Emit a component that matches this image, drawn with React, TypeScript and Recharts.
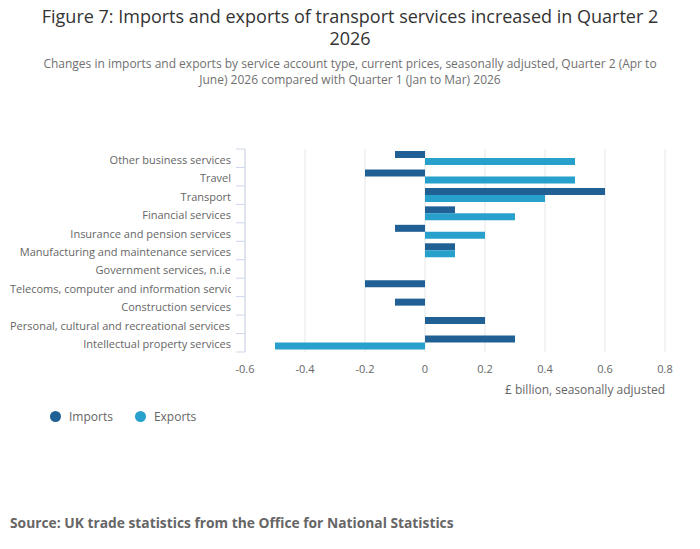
import React from 'react';
import { BarChart, Bar, XAxis, YAxis, CartesianGrid } from 'recharts';

const categories = [
  'Other business services',
  'Travel',
  'Transport',
  'Financial services',
  'Insurance and pension services',
  'Manufacturing and maintenance services',
  'Government services, n.i.e',
  'Telecoms, computer and information services',
  'Construction services',
  'Personal, cultural and recreational services',
  'Intellectual property services',
];
const imports = [-0.1, -0.2, 0.6, 0.1, -0.1, 0.1, 0, -0.2, -0.1, 0.2, 0.3];
const exports = [0.5, 0.5, 0.4, 0.3, 0.2, 0.1, 0, 0, 0, 0, -0.5];
const xTicks = [-0.6, -0.4, -0.2, 0, 0.2, 0.4, 0.6, 0.8];

const series = [
  { key: 'imports', name: 'Imports', color: '#206095' },
  { key: 'exports', name: 'Exports', color: '#27a0cc' },
];

const data = categories.map((name, i) => ({ name, imports: imports[i], exports: exports[i] }));

const W = 700;
const H = 549;
const TOP = 149;
const BOTTOM = 352;
const LEFT = 245;
const RIGHT = 665;
const LABEL_END = 231;
const FONT = '"Open Sans", sans-serif';
const NARROW = '"Liberation Sans Narrow", "Open Sans", sans-serif';
const bandH = (BOTTOM - TOP) / categories.length;

const CategoryTick = (props: any) => {
  const { y, payload, index } = props;
  const label: string = payload.value;
  const long = label.length > 40;
  return (
    <g>
      <line x1={LEFT - 9} x2={LEFT} y1={y - bandH / 2} y2={y - bandH / 2} stroke="#ccd6eb" />
      {index === categories.length - 1 && (
        <line x1={LEFT - 9} x2={LEFT} y1={y + bandH / 2} y2={y + bandH / 2} stroke="#ccd6eb" />
      )}
      <text
        x={long ? 10 : LABEL_END}
        y={y}
        dy="0.5em"
        textAnchor={long ? 'start' : 'end'}
        fill="#666666"
        fontSize={11}
        fontFamily={FONT}
        clipPath="url(#labelClip)"
      >
        {label}
      </text>
    </g>
  );
};

export default function App() {
  return (
    <div style={{ position: 'absolute', left: 0, top: 0, width: W, height: H, background: '#fff', fontFamily: FONT }}>
      <div style={{ position: 'absolute', top: 5, left: 0, width: W, textAlign: 'center', fontSize: 18, lineHeight: '22px', color: '#333333', fontFamily: NARROW }}>
        Figure 7: Imports and exports of transport services increased in Quarter 2
        <br />
        2026
      </div>
      <div style={{ position: 'absolute', top: 56, left: 0, width: W, textAlign: 'center', fontSize: 12, lineHeight: '15.5px', color: '#707070', fontFamily: NARROW }}>
        Changes in imports and exports by service account type, current prices, seasonally adjusted, Quarter 2 (Apr to
        <br />
        June) 2026 compared with Quarter 1 (Jan to Mar) 2026
      </div>
      <div style={{ position: 'absolute', left: 0, top: 0 }}>
        <BarChart
          width={W}
          height={H}
          data={data}
          layout="vertical"
          margin={{ top: TOP, right: W - RIGHT, bottom: H - BOTTOM - 30, left: 0 }}
          barGap={0}
          barSize={7}
        >
          <defs>
            <clipPath id="labelClip">
              <rect x={0} y={0} width={LABEL_END} height={H} />
            </clipPath>
          </defs>
          <CartesianGrid horizontal={false} stroke="#e6e6e6" />
          <XAxis
            type="number"
            domain={[xTicks[0], xTicks[xTicks.length - 1]]}
            ticks={xTicks}
            height={30}
            axisLine={false}
            tickLine={false}
            tickMargin={7}
            tick={{ fill: '#666666', fontSize: 11, fontFamily: FONT }}
            tickFormatter={(v: number) => String(Number(v.toFixed(1)))}
          />
          <YAxis
            type="category"
            dataKey="name"
            width={LEFT}
            axisLine={{ stroke: '#ccd6eb' }}
            tickLine={false}
            interval={0}
            tick={<CategoryTick />}
          />
          {series.map((s) => (
            <Bar key={s.key} dataKey={s.key} name={s.name} fill={s.color} isAnimationActive={false} />
          ))}
        </BarChart>
      </div>
      <div style={{ position: 'absolute', top: 381, right: W - RIGHT, fontSize: 12, color: '#666666' }}>
        £ billion, seasonally adjusted
      </div>
      <div style={{ position: 'absolute', top: 408, left: 50, display: 'flex', fontSize: 12, color: '#666666' }}>
        {series.map((s) => (
          <div key={s.key} style={{ display: 'flex', alignItems: 'center', marginRight: 22 }}>
            <span style={{ width: 11, height: 11, borderRadius: '50%', background: s.color, marginRight: 8 }} />
            {s.name}
          </div>
        ))}
      </div>
      <div style={{ position: 'absolute', top: 513, left: 10, fontSize: 13.8, fontWeight: 700, color: '#666666' }}>
        Source: UK trade statistics from the Office for National Statistics
      </div>
    </div>
  );
}
